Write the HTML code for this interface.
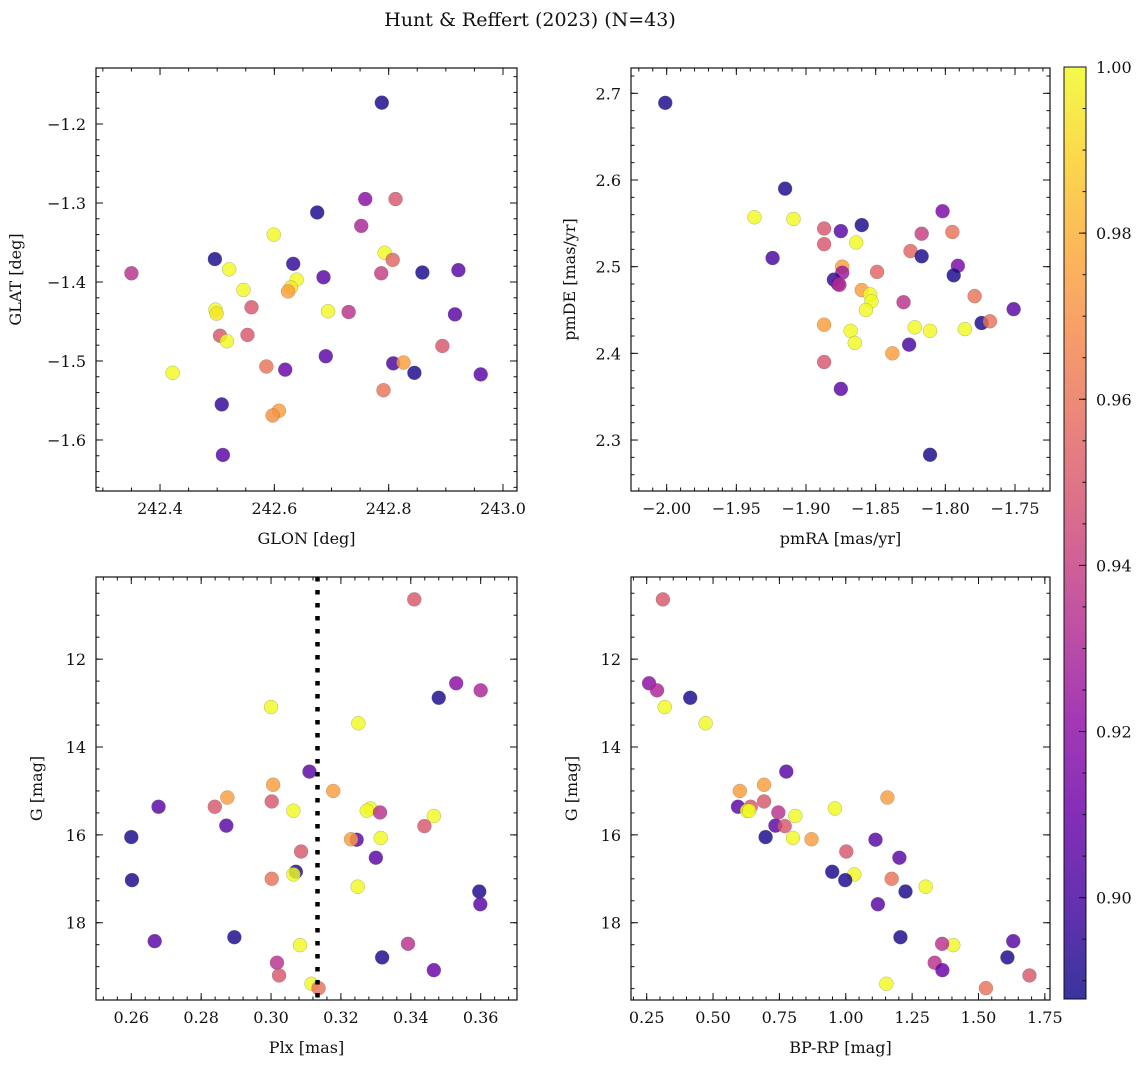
<!DOCTYPE html>
<html><head><meta charset="utf-8"><style>
html,body{margin:0;padding:0;background:#fff;}
svg text{font-family:"DejaVu Serif","Liberation Serif",serif;fill:#111;}
</style></head><body>
<svg id="chart" width="1148" height="1067" xmlns="http://www.w3.org/2000/svg">
<text x="530" y="26" font-size="19" text-anchor="middle">Hunt &amp; Reffert (2023) (N=43)</text>
</svg>
<script>
const glon=[242.788,242.759,242.812,242.675,242.752,242.599,242.793,242.807,242.496,242.521,242.633,242.350,242.787,242.859,242.922,242.686,242.639,242.629,242.624,242.546,242.560,242.497,242.499,242.694,242.730,242.916,242.505,242.553,242.517,242.894,242.690,242.808,242.826,242.586,242.619,242.422,242.845,242.961,242.791,242.508,242.608,242.597,242.510];
const glat=[-1.173,-1.295,-1.295,-1.312,-1.329,-1.340,-1.363,-1.372,-1.371,-1.384,-1.377,-1.389,-1.389,-1.388,-1.385,-1.394,-1.397,-1.407,-1.412,-1.410,-1.432,-1.435,-1.440,-1.437,-1.438,-1.441,-1.468,-1.467,-1.475,-1.481,-1.494,-1.503,-1.502,-1.507,-1.511,-1.515,-1.515,-1.517,-1.537,-1.555,-1.563,-1.569,-1.619];
const probTL=[0.89,0.92,0.95,0.89,0.93,1.0,1.0,0.955,0.89,1.0,0.895,0.935,0.94,0.89,0.905,0.905,1.0,0.995,0.975,1.0,0.95,1.0,0.995,1.0,0.935,0.905,0.95,0.95,1.0,0.95,0.905,0.9,0.975,0.96,0.91,1.0,0.89,0.905,0.96,0.895,0.975,0.97,0.905];
const pmra=[-2.001,-1.915,-1.937,-1.909,-1.924,-1.887,-1.887,-1.875,-1.860,-1.864,-1.802,-1.795,-1.817,-1.825,-1.817,-1.874,-1.874,-1.849,-1.791,-1.794,-1.880,-1.877,-1.876,-1.860,-1.854,-1.853,-1.857,-1.830,-1.779,-1.751,-1.774,-1.768,-1.887,-1.868,-1.865,-1.822,-1.811,-1.786,-1.826,-1.838,-1.887,-1.875,-1.811];
const pmde=[2.689,2.590,2.557,2.555,2.510,2.544,2.526,2.541,2.548,2.528,2.564,2.540,2.538,2.518,2.512,2.500,2.493,2.494,2.501,2.490,2.485,2.480,2.479,2.473,2.468,2.460,2.450,2.459,2.466,2.451,2.435,2.437,2.433,2.426,2.412,2.430,2.426,2.428,2.410,2.400,2.390,2.359,2.283];
const probTR=[0.89,0.89,1.0,1.0,0.9,0.95,0.95,0.905,0.89,1.0,0.915,0.96,0.94,0.955,0.89,0.975,0.925,0.955,0.915,0.89,0.895,0.91,0.935,0.975,1.0,1.0,1.0,0.935,0.96,0.905,0.89,0.96,0.975,1.0,1.0,1.0,1.0,1.0,0.9,0.975,0.95,0.905,0.89];
const gmag=[10.64,12.55,12.71,12.88,13.09,13.46,14.56,14.86,15.0,15.15,15.36,15.36,15.24,15.45,15.40,15.45,15.49,15.57,15.79,15.80,16.05,16.11,16.10,16.07,16.38,16.52,16.84,16.90,17.03,17.0,17.18,17.29,17.58,18.33,18.42,18.51,18.48,18.79,18.91,19.08,19.20,19.39,19.49];
const plx=[0.341,0.353,0.360,0.348,0.300,0.325,0.311,0.3006,0.3178,0.2875,0.2678,0.2839,0.3002,0.3064,0.3285,0.3274,0.3312,0.3466,0.2872,0.3439,0.260,0.3245,0.3229,0.3314,0.3086,0.3300,0.3071,0.3064,0.2602,0.3002,0.3248,0.3596,0.3599,0.2895,0.2667,0.3083,0.3392,0.3318,0.3017,0.3466,0.3023,0.3116,0.3136];
const bprp=[0.311,0.259,0.289,0.414,0.318,0.472,0.776,0.692,0.601,1.157,0.594,0.642,0.692,0.628,0.959,0.636,0.746,0.810,0.735,0.770,0.698,1.112,0.871,0.801,1.002,1.202,0.949,1.032,0.998,1.173,1.301,1.225,1.121,1.206,1.631,1.405,1.363,1.609,1.335,1.364,1.692,1.153,1.528];
const probB=[0.95,0.92,0.93,0.89,1.0,1.0,0.905,0.975,0.975,0.975,0.905,0.95,0.95,1.0,1.0,1.0,0.935,1.0,0.905,0.95,0.89,0.905,0.975,1.0,0.95,0.905,0.89,1.0,0.89,0.96,1.0,0.89,0.905,0.89,0.905,1.0,0.935,0.89,0.935,0.91,0.95,1.0,0.96];
const plxMean=[0.3133];
const cbTicks=[0.90,0.92,0.94,0.96,0.98,1.00];

const NS="http://www.w3.org/2000/svg";
const svg=document.getElementById('chart');
const VMIN=0.8878,VMAX=1.0;
const stops=[[13,8,135],[65,4,157],[106,0,168],[143,13,164],[177,42,144],[204,71,120],[225,100,98],[242,132,75],[252,166,54],[252,206,37],[240,249,33]];
function plasma(t){t=Math.max(0,Math.min(1,t));const s=t*10,i=Math.min(9,Math.floor(s)),f=s-i;const a=stops[i],b=stops[i+1];
return 'rgb('+a.map((v,k)=>Math.round(v+(b[k]-v)*f)).join(',')+')';}
function colorOf(v){return plasma((v-VMIN)/(VMAX-VMIN));}
function el(tag,attrs,parent){const e=document.createElementNS(NS,tag);for(const k in attrs)e.setAttribute(k,attrs[k]);(parent||svg).appendChild(e);return e;}
function fmt(v,d){const s=Math.abs(v).toFixed(d);return (v<-1e-9?'\u2212':'')+s;}

function panel(cfg){
  const g=el('g',{});
  
  
  const {x0,x1,y0,y1,xd,yd}=cfg;
  const sx=v=>x0+(v-xd[0])/(xd[1]-xd[0])*(x1-x0);
  const sy=cfg.invert? (v=>y0+(v-yd[0])/(yd[1]-yd[0])*(y1-y0)) : (v=>y1-(v-yd[0])/(yd[1]-yd[0])*(y1-y0));
  const pg=el('g',{},g);
  
  
  for(let i=0;i<cfg.xs.length;i++){
    const c=el('circle',{cx:sx(cfg.xs[i]),cy:sy(cfg.ys[i]),r:7,fill:colorOf(cfg.cs[i]),'fill-opacity':0.82,stroke:'#666','stroke-width':0.4,'stroke-opacity':0.6},pg);
    
    
  }
  if(cfg.vline!==undefined){
    const l=el('line',{x1:sx(cfg.vline),x2:sx(cfg.vline),y1:y0,y2:y1,stroke:'#000','stroke-width':4.5,'stroke-dasharray':'4.5 8.5'},g);
    
    
  }
  const tg=el('g',{stroke:'#111','stroke-width':1},g);
  
  
  function xt(v,len){const X=sx(v);if(X<x0-0.5||X>x1+0.5)return;el('line',{x1:X,x2:X,y1:y1,y2:y1-len},tg);el('line',{x1:X,x2:X,y1:y0,y2:y0+len},tg);}
  function yt(v,len){const Y=sy(v);if(Y<y0-0.5||Y>y1+0.5)return;el('line',{x1:x0,x2:x0+len,y1:Y,y2:Y},tg);el('line',{x1:x1,x2:x1-len,y1:Y,y2:Y},tg);}
  const xmn=Math.min(...xd),xmx=Math.max(...xd),ymn=Math.min(...yd),ymx=Math.max(...yd);
  for(let v=Math.ceil(xmn/cfg.xminor)*cfg.xminor;v<=xmx;v+=cfg.xminor)xt(v,3.5);
  for(let v=Math.ceil(ymn/cfg.yminor)*cfg.yminor;v<=ymx;v+=cfg.yminor)yt(v,3.5);
  cfg.xticks.forEach(v=>{xt(v,7);const t=el('text',{x:sx(v),y:y1+23,'font-size':16,'text-anchor':'middle'},g);t.textContent=fmt(v,cfg.xdec);
    });
  cfg.yticks.forEach(v=>{yt(v,7);const t=el('text',{x:x0-10,y:sy(v)+6,'font-size':16,'text-anchor':'end'},g);t.textContent=fmt(v,cfg.ydec);
    });
  const fr=el('rect',{x:x0,y:y0,width:x1-x0,height:y1-y0,fill:'none',stroke:'#111','stroke-width':1.2},g);
  
  
  const xl=el('text',{x:(x0+x1)/2,y:y1+53,'font-size':16,'text-anchor':'middle'},g);xl.textContent=cfg.xlabel;
  
  const yx=cfg.ylx,yy=(y0+y1)/2;
  const yl=el('text',{x:yx,y:yy,'font-size':16,'text-anchor':'middle',transform:`rotate(-90 ${yx} ${yy})`},g);yl.textContent=cfg.ylabel;
  
}

panel({name:'glon-glat-panel',x0:96,x1:517,y0:68,y1:491,xd:[242.288,243.0245],yd:[-1.6646,-1.1291],
  xs:glon,ys:glat,cs:probTL,xticks:[242.4,242.6,242.8,243.0],yticks:[-1.2,-1.3,-1.4,-1.5,-1.6],xdec:1,ydec:1,
  xminor:0.05,yminor:0.02,xlabel:'GLON [deg]',ylabel:'GLAT [deg]',ylx:21});
panel({name:'proper-motion-panel',x0:631,x1:1050,y0:68,y1:491,xd:[-2.0256,-1.7249],yd:[2.2412,2.7292],
  xs:pmra,ys:pmde,cs:probTR,xticks:[-2.0,-1.95,-1.9,-1.85,-1.8,-1.75],yticks:[2.3,2.4,2.5,2.6,2.7],xdec:2,ydec:1,
  xminor:0.01,yminor:0.02,xlabel:'pmRA [mas/yr]',ylabel:'pmDE [mas/yr]',ylx:575});
panel({name:'parallax-magnitude-panel',x0:96,x1:517,y0:577,y1:1000,xd:[0.2499,0.3704],yd:[10.130,19.759],invert:true,
  xs:plx,ys:gmag,cs:probB,xticks:[0.26,0.28,0.30,0.32,0.34,0.36],yticks:[12,14,16,18],xdec:2,ydec:0,
  xminor:0.004,yminor:0.5,xlabel:'Plx [mas]',ylabel:'G [mag]',ylx:42,vline:plxMean[0]});
panel({name:'color-magnitude-panel',x0:631,x1:1050,y0:577,y1:1000,xd:[0.1909,1.7694],yd:[10.130,19.759],invert:true,
  xs:bprp,ys:gmag,cs:probB,xticks:[0.25,0.5,0.75,1.0,1.25,1.5,1.75],yticks:[12,14,16,18],xdec:2,ydec:0,
  xminor:0.05,yminor:0.5,xlabel:'BP-RP [mag]',ylabel:'G [mag]',ylx:577});

(function(){
  const cx0=1064,cx1=1086,cy0=67,cy1=999;
  const g=el('g',{});
  
  
  const defs=el('defs',{},g);
  const lg=el('linearGradient',{id:'cbg',x1:0,y1:1,x2:0,y2:0},defs);
  for(let i=0;i<=20;i++){el('stop',{offset:i/20,'stop-color':plasma(i/20)},lg);}
  el('rect',{x:cx0,y:cy0,width:cx1-cx0,height:cy1-cy0,fill:'url(#cbg)','fill-opacity':0.82},g);
  el('rect',{x:cx0,y:cy0,width:cx1-cx0,height:cy1-cy0,fill:'none',stroke:'#111','stroke-width':1},g);
  const sy=v=>cy1-(v-VMIN)/(VMAX-VMIN)*(cy1-cy0);
  for(let v=0.89;v<=1.0001;v+=0.005){el('line',{x1:cx1,x2:cx1-3.5,y1:sy(v),y2:sy(v),stroke:'#111'},g);}
  cbTicks.forEach(v=>{el('line',{x1:cx1,x2:cx1-7,y1:sy(v),y2:sy(v),stroke:'#111'},g);
    const t=el('text',{x:cx1+10,y:sy(v)+6,'font-size':16},g);t.textContent=v.toFixed(2);
    });
})();
</script>
</body></html>
